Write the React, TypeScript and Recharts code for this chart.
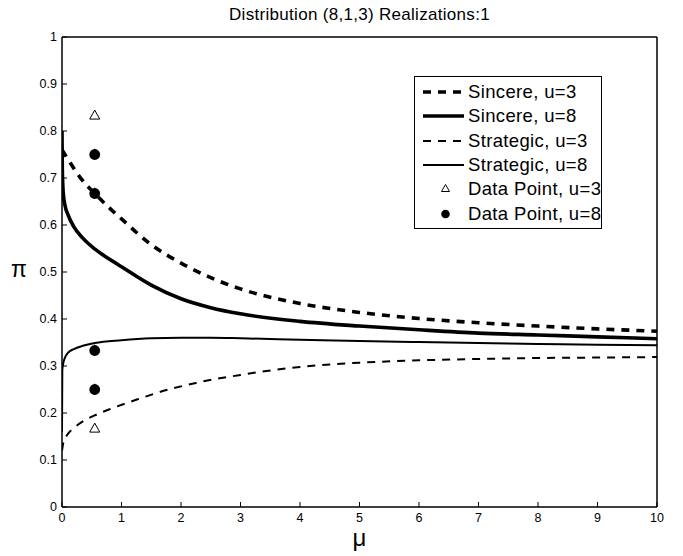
import React from 'react';
import { ComposedChart, Line, Scatter, XAxis, YAxis, Legend, Label } from 'recharts';

const FONT = '"Liberation Sans", Arial, Helvetica, sans-serif';

const chartTitle = 'Distribution (8,1,3) Realizations:1';
const xLabel = 'μ';
const yLabel = 'π';

const xTicks = [0, 1, 2, 3, 4, 5, 6, 7, 8, 9, 10];
const yTicks = [0, 0.1, 0.2, 0.3, 0.4, 0.5, 0.6, 0.7, 0.8, 0.9, 1];

const seriesNames = [
  'Sincere, u=3',
  'Sincere, u=8',
  'Strategic, u=3',
  'Strategic, u=8',
  'Data Point, u=3',
  'Data Point, u=8',
];

const sincereU3 = [
  { x: 0, y: 0.76 }, { x: 0.1, y: 0.74 }, { x: 0.3, y: 0.702 }, { x: 0.55, y: 0.667 },
  { x: 0.8, y: 0.636 }, { x: 1, y: 0.613 }, { x: 1.5, y: 0.558 }, { x: 2, y: 0.519 },
  { x: 2.5, y: 0.488 }, { x: 3, y: 0.464 }, { x: 4, y: 0.433 }, { x: 5, y: 0.414 },
  { x: 6, y: 0.401 }, { x: 7, y: 0.392 }, { x: 8, y: 0.385 }, { x: 9, y: 0.379 },
  { x: 10, y: 0.374 },
];

const sincereU8 = [
  { x: 0, y: 0.8 }, { x: 0.005, y: 0.72 }, { x: 0.02, y: 0.67 }, { x: 0.05, y: 0.642 },
  { x: 0.1, y: 0.622 }, { x: 0.2, y: 0.596 }, { x: 0.35, y: 0.572 }, { x: 0.55, y: 0.549 },
  { x: 0.8, y: 0.527 }, { x: 1, y: 0.511 }, { x: 1.5, y: 0.472 }, { x: 2, y: 0.443 },
  { x: 2.5, y: 0.424 }, { x: 3, y: 0.411 }, { x: 4, y: 0.395 }, { x: 5, y: 0.385 },
  { x: 6, y: 0.377 }, { x: 7, y: 0.37 }, { x: 8, y: 0.366 }, { x: 9, y: 0.362 },
  { x: 10, y: 0.358 },
];

const strategicU3 = [
  { x: 0, y: 0.12 }, { x: 0.02, y: 0.135 }, { x: 0.08, y: 0.152 }, { x: 0.2, y: 0.168 },
  { x: 0.35, y: 0.182 }, { x: 0.55, y: 0.195 }, { x: 0.8, y: 0.208 }, { x: 1.2, y: 0.226 },
  { x: 1.6, y: 0.243 }, { x: 2.25, y: 0.264 }, { x: 3, y: 0.281 }, { x: 4, y: 0.298 },
  { x: 5, y: 0.307 }, { x: 6, y: 0.312 }, { x: 7, y: 0.315 }, { x: 8, y: 0.317 },
  { x: 9, y: 0.318 }, { x: 10, y: 0.319 },
];

const strategicU8 = [
  { x: 0, y: 0.16 }, { x: 0.005, y: 0.29 }, { x: 0.02, y: 0.305 }, { x: 0.05, y: 0.318 },
  { x: 0.1, y: 0.328 }, { x: 0.2, y: 0.336 }, { x: 0.35, y: 0.343 }, { x: 0.55, y: 0.349 },
  { x: 1, y: 0.355 }, { x: 1.5, y: 0.359 }, { x: 2, y: 0.36 }, { x: 2.5, y: 0.36 },
  { x: 3, y: 0.359 }, { x: 4, y: 0.356 }, { x: 5, y: 0.353 }, { x: 6, y: 0.351 },
  { x: 7, y: 0.349 }, { x: 8, y: 0.347 }, { x: 9, y: 0.345 }, { x: 10, y: 0.344 },
];

const dataPointsU3 = [
  { x: 0.55, y: 0.833 },
  { x: 0.55, y: 0.167 },
];

const dataPointsU8 = [
  { x: 0.55, y: 0.75 },
  { x: 0.55, y: 0.667 },
  { x: 0.55, y: 0.333 },
  { x: 0.55, y: 0.25 },
];

const THICK = 3.6;
const THIN = 2;
const DASH = '8 7';

const OpenTriangle = (props: any) => {
  const { cx, cy } = props;
  if (cx == null || cy == null) return null;
  const w = 10;
  const h = 9;
  return (
    <path
      d={`M${cx},${cy - h * 0.6} L${cx + w / 2},${cy + h * 0.4} L${cx - w / 2},${cy + h * 0.4} Z`}
      fill="#fff"
      stroke="#000"
      strokeWidth={1}
    />
  );
};

const FilledDot = (props: any) => {
  const { cx, cy } = props;
  if (cx == null || cy == null) return null;
  const w = 9;
  const h = 9;
  return (
    <g>
      <path
        d={`M${cx},${cy - h * 0.7} L${cx + w / 2},${cy + h * 0.3} L${cx - w / 2},${cy + h * 0.3} Z`}
        fill="#000"
      />
      <circle cx={cx} cy={cy} r={5.4} fill="#000" />
    </g>
  );
};

const legendStyles = [
  { kind: 'line', width: THICK, dash: DASH },
  { kind: 'line', width: THICK, dash: undefined },
  { kind: 'line', width: THIN, dash: DASH },
  { kind: 'line', width: THIN, dash: undefined },
  { kind: 'triangle' },
  { kind: 'dot' },
];

const LegendBox = () => (
  <div
    style={{
      width: 188,
      height: 153,
      boxSizing: 'border-box',
      border: '1.5px solid #000',
      background: '#fff',
      paddingTop: 3,
      fontFamily: FONT,
      fontSize: 18.5,
      letterSpacing: 0.35,
      color: '#000',
    }}
  >
    {seriesNames.map((name, i) => {
      const st: any = legendStyles[i];
      return (
        <div key={name} style={{ display: 'flex', alignItems: 'center', height: 24.3, whiteSpace: 'nowrap' }}>
          <svg width={50} height={24} style={{ flex: 'none' }}>
            {st.kind === 'line' && (
              <line x1={8} x2={49} y1={12} y2={12} stroke="#000" strokeWidth={st.width} strokeDasharray={st.dash} />
            )}
            {st.kind === 'triangle' && (
              <path d="M30.5,7.5 L34.5,14.5 L26.5,14.5 Z" fill="#fff" stroke="#000" strokeWidth={1} />
            )}
            {st.kind === 'dot' && <circle cx={30.5} cy={12} r={4.3} fill="#000" />}
          </svg>
          <span style={{ marginLeft: 3 }}>{name}</span>
        </div>
      );
    })}
  </div>
);

const fmt = (v: number) => String(Math.round(v * 10) / 10);
const tickStyle = { fill: '#000', fontSize: 12.5, fontFamily: FONT };
const axisLineStyle = { stroke: '#000', strokeWidth: 1.5 };

export default function App() {
  return (
    <div style={{ position: 'absolute', left: 0, top: 0, width: 683, height: 556, background: '#fff' }}>
      <div
        style={{
          position: 'absolute',
          left: 159.5,
          top: 5,
          width: 400,
          textAlign: 'center',
          fontFamily: FONT,
          fontSize: 17,
          letterSpacing: 0.3,
          lineHeight: '20px',
          color: '#000',
          zIndex: 2,
        }}
      >
        {chartTitle}
      </div>
      <ComposedChart width={683} height={556} margin={{ top: 7, right: 0, bottom: 19, left: 2 }}>
        <XAxis
          dataKey="x"
          type="number"
          domain={[0, 10]}
          ticks={xTicks}
          interval={0}
          allowDataOverflow
          height={30}
          tickSize={-5}
          tickMargin={11}
          tickFormatter={fmt}
          axisLine={axisLineStyle}
          tickLine={{ stroke: '#000', strokeWidth: 1 }}
          tick={tickStyle}
        >
          <Label value={xLabel} position="center" dy={15} style={{ fontSize: 24, fontFamily: FONT, fill: '#000' }} />
        </XAxis>
        <XAxis
          xAxisId="top"
          orientation="top"
          type="number"
          domain={[0, 10]}
          ticks={xTicks}
          interval={0}
          allowDataOverflow
          height={30}
          tickSize={-5}
          axisLine={axisLineStyle}
          tickLine={{ stroke: '#000', strokeWidth: 1 }}
          tick={false}
        />
        <YAxis
          type="number"
          domain={[0, 1]}
          ticks={yTicks}
          interval={0}
          allowDataOverflow
          width={60}
          tickSize={-5}
          tickMargin={10}
          tickFormatter={fmt}
          axisLine={axisLineStyle}
          tickLine={{ stroke: '#000', strokeWidth: 1 }}
          tick={tickStyle}
        >
          <Label value={yLabel} position="insideLeft" offset={9} dy={-3} style={{ fontSize: 23, fontFamily: FONT, fill: '#000', textAnchor: 'start' }} />
        </YAxis>
        <YAxis
          yAxisId="right"
          orientation="right"
          type="number"
          domain={[0, 1]}
          ticks={yTicks}
          interval={0}
          allowDataOverflow
          width={26}
          tickSize={-5}
          axisLine={axisLineStyle}
          tickLine={{ stroke: '#000', strokeWidth: 1 }}
          tick={false}
        />
        <Line data={sincereU3} dataKey="y" name={seriesNames[0]} type="monotone" stroke="#000" strokeWidth={THICK} strokeDasharray={DASH} dot={false} activeDot={false} isAnimationActive={false} />
        <Line data={sincereU8} dataKey="y" name={seriesNames[1]} type="monotone" stroke="#000" strokeWidth={THICK} dot={false} activeDot={false} isAnimationActive={false} />
        <Line data={strategicU3} dataKey="y" name={seriesNames[2]} type="monotone" stroke="#000" strokeWidth={THIN} strokeDasharray={DASH} dot={false} activeDot={false} isAnimationActive={false} />
        <Line data={strategicU8} dataKey="y" name={seriesNames[3]} type="monotone" stroke="#000" strokeWidth={THIN} dot={false} activeDot={false} isAnimationActive={false} />
        <Scatter data={dataPointsU3} dataKey="y" name={seriesNames[4]} shape={OpenTriangle} isAnimationActive={false} />
        <Scatter data={dataPointsU8} dataKey="y" name={seriesNames[5]} shape={FilledDot} isAnimationActive={false} />
        <Legend
          layout="vertical"
          align="center"
          verticalAlign="middle"
          content={() => <LegendBox />}
          wrapperStyle={{ position: 'absolute', left: 414, top: 76, width: 188, height: 153 }}
        />
      </ComposedChart>
    </div>
  );
}
